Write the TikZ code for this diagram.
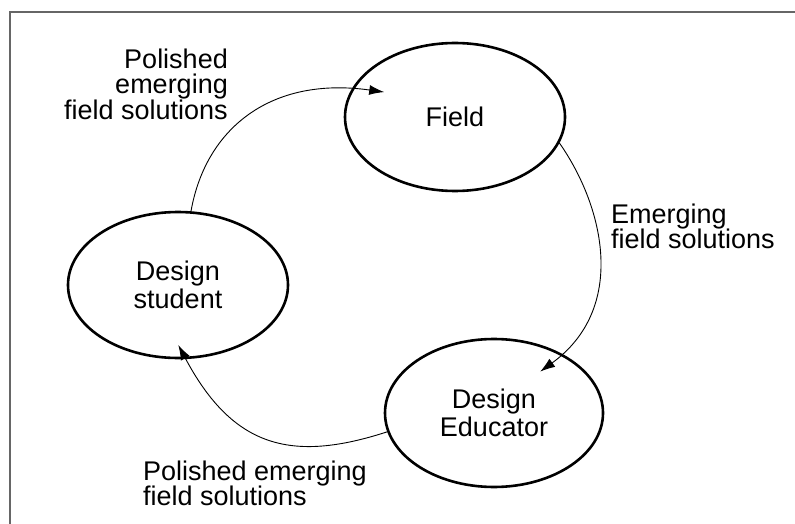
\documentclass[tikz,border=0pt]{standalone}
\usepackage{fontspec}
\setmainfont{Liberation Sans}
\usepackage{tikz}
\usetikzlibrary{shapes.geometric,arrows.meta}

\begin{document}
\begin{tikzpicture}[x=1pt,y=1pt,
			bubble/.style={draw, ellipse, line width=2.6pt, inner sep=0pt, align=center,
				minimum width=220pt, minimum height=148pt, font=\fontsize{27}{28}\selectfont},
			note/.style={inner sep=0pt, font=\fontsize{27}{25.5}\selectfont},
			flow/.style={line width=0.9pt, -{Latex[length=15pt,width=10pt]}}]
			      \useasboundingbox (0,0) rectangle (795,-524);
			      \draw[black!60, line width=1.4pt] (10,-524) -- (10,-12) -- (795,-12);

			      \node[bubble] (field) at (455,-117) {Field};
			      \node[bubble, minimum height=146pt] (student) at (178,-285) {Design\\student};
			      \node[bubble, minimum width=218pt] (educator) at (494,-413) {Design\\Educator};

			      \node[note, anchor=north east, align=right] (polishedtop) at (228,-48.5) {Polished\\emerging\\field solutions};
			      \node[note, anchor=north west, align=left] (emerging) at (611,-203.5) {Emerging\\field solutions};
			      \node[note, anchor=north west, align=left] (polishedbottom) at (143,-460.5) {Polished emerging\\field solutions};

			      \draw[flow, shorten >=-32pt] (student.80) to[out=80, in=172, looseness=1.05] (field.164);
			      \draw[flow, shorten >=-29pt] (field.-14) to[out=-55, in=36, looseness=0.95] (educator.40);
			      \draw[flow, shorten >=-16pt] (educator.190) to[out=198, in=-62, looseness=1.2] (student.-84);
		      \end{tikzpicture}
\end{document}
